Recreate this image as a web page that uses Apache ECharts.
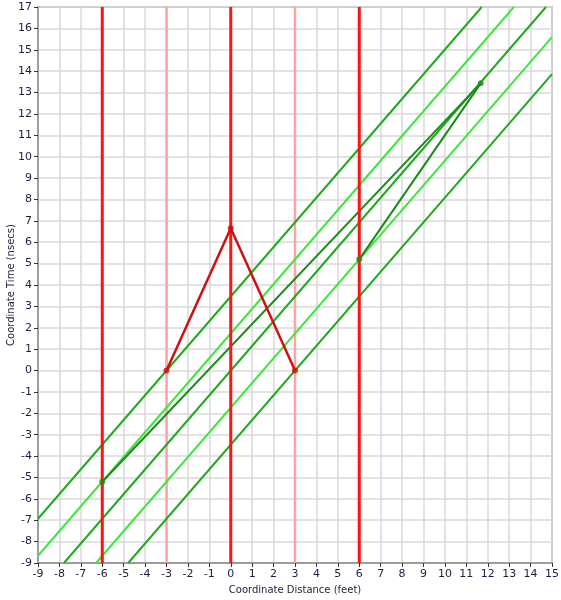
<!DOCTYPE html>
<html>
<head>
<meta charset="utf-8">
<script src="https://cdn.jsdelivr.net/npm/echarts@6/dist/echarts.min.js"></script>
<style>
html,body{margin:0;padding:0;background:#fff;}
#chart{width:561px;height:600px;}
</style>
</head>
<body>
<div id="chart"></div>
<script>
// ---- data ----
const xRange = [-9, 15];
const yRange = [-9, 17];
const stationaryThick = [-6, 0, 6];      // thick red world lines
const stationaryLight = [-3, 3];         // light red world lines
const trainDark = [                      // dark green world lines (endpoints)
  [[-9, -6.93], [11.72, 17]],
  [[-7.79, -9], [14.72, 17]],
  [[-4.79, -9], [15, 13.86]]
];
const trainLight = [                     // light green world lines (endpoints)
  [[-9, -8.66], [13.22, 17]],
  [[-6.29, -9], [15, 15.59]]
];
const redPath = [[-3, 0], [0, 6.65], [3, 0]];
const signalLeft = [[-6, -5.2], [11.67, 13.43]];
const signalRight = [[6, 5.2], [11.67, 13.43]];
const greenDots = [[-6, -5.2], [6, 5.2], [11.67, 13.43]];

const series = [];
function lineSeries(data, color, width, z) {
  return {
    type: 'line', data: data, symbol: 'none', silent: true, z: z,
    lineStyle: { color: color, width: width }, animation: false
  };
}
stationaryLight.forEach(x => series.push(lineSeries([[x, yRange[0]], [x, yRange[1]]], '#ffa3a3', 2.5, 2)));
trainLight.forEach(d => series.push(lineSeries(d, '#3ee63e', 2, 3)));
trainDark.forEach(d => series.push(lineSeries(d, '#1faa1f', 2, 3)));
series.push(lineSeries(signalLeft, '#178c17', 2, 4));
series.push(lineSeries(signalRight, '#178c17', 2, 4));
stationaryThick.forEach(x => series.push(lineSeries([[x, yRange[0]], [x, yRange[1]]], '#ff1414', 3, 5)));
series.push(lineSeries(redPath, '#d01010', 2.5, 6));
series.push({
  type: 'scatter', data: redPath, symbol: 'circle', symbolSize: 6, z: 7, silent: true,
  itemStyle: { color: '#cc1010' }, animation: false
});
series.push({
  type: 'scatter', data: greenDots, symbol: 'circle', symbolSize: 6, z: 7, silent: true,
  itemStyle: { color: '#179017' }, animation: false
});

const labelStyle = { color: '#1e1e3c', fontFamily: 'DejaVu Sans', fontSize: 11 };
const chart = echarts.init(document.getElementById('chart'), null, { renderer: 'canvas' });
chart.setOption({
  animation: false,
  grid: { left: 38, right: 9, top: 7, bottom: 37, show: true, borderColor: '#9a9a9a', borderWidth: 1.5,
          containLabel: false, outerBoundsMode: 'none' },
  xAxis: {
    type: 'value', min: xRange[0], max: xRange[1], interval: 1,
    name: 'Coordinate Distance (feet)', nameLocation: 'middle', nameGap: 22, nameMoveOverlap: false,
    nameTextStyle: { color: '#1e1e3c', fontFamily: 'DejaVu Sans', fontSize: 10 },
    axisLine: { show: true, onZero: false, lineStyle: { color: '#8c8c8c', width: 1.5 } },
    axisTick: { show: true, length: 4, lineStyle: { color: '#333', width: 1 } },
    axisLabel: Object.assign({ margin: 6 }, labelStyle),
    splitLine: { show: true, lineStyle: { color: '#d8d8d8', width: 1.5 } }
  },
  yAxis: {
    type: 'value', min: yRange[0], max: yRange[1], interval: 1,
    name: 'Coordinate Time (nsecs)', nameLocation: 'middle', nameGap: 22, nameRotate: 90, nameMoveOverlap: false,
    nameTextStyle: { color: '#1e1e3c', fontFamily: 'DejaVu Sans', fontSize: 10 },
    axisLine: { show: true, onZero: false, lineStyle: { color: '#8c8c8c', width: 1.5 } },
    axisTick: { show: true, length: 4, lineStyle: { color: '#333', width: 1 } },
    axisLabel: Object.assign({ margin: 6 }, labelStyle),
    splitLine: { show: true, lineStyle: { color: '#d8d8d8', width: 1.5 } }
  },
  series: series
});
</script>
</body>
</html>
